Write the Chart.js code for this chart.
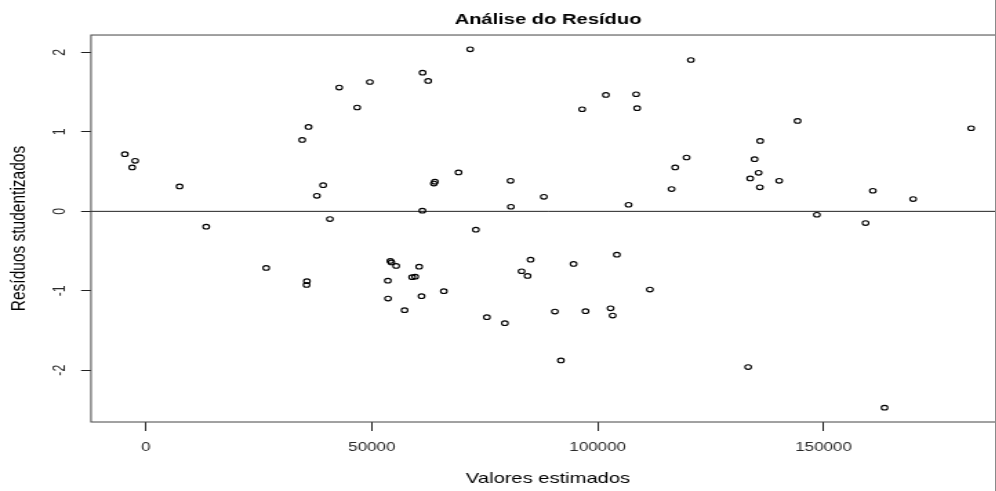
<!DOCTYPE html>
<html lang="pt">
<head>
<meta charset="utf-8">
<title>Análise do Resíduo</title>
<script src="https://cdn.jsdelivr.net/npm/chart.js@4.4.1/dist/chart.umd.min.js"></script>
<style>
  html, body { margin: 0; padding: 0; background: #fff; overflow: hidden; }
  #frame { position: relative; width: 996px; height: 491px; overflow: hidden; background: #fff; }
  /* the plot is drawn on a narrower canvas and widened, like the exported R device */
  #plot { position: absolute; left: 0; top: 0; transform-origin: 0 0; transform: scaleX(1.38); }
  #edge { position: absolute; left: 995px; top: 0; width: 1px; height: 491px; background: #8a8a8a; }
</style>
</head>
<body>
<div id="frame">
  <canvas id="plot" width="732" height="491"></canvas>
  <div id="edge"></div>
</div>
<script>
// fitted values of the model (x) and their studentized residuals (y)
const fittedValues = [
  -4650, -3030, -2370, 7460, 13350, 26630, 34600, 35570, 35640, 36010,
  37850, 39240, 40730, 42790, 46770, 49580, 53560, 53600, 54120, 54340,
  55400, 57260, 58940, 59610, 60490, 61020, 61250, 61200, 62480, 63750,
  63970, 65960, 69210, 71780, 73040, 75480, 79460, 80720, 80800, 83160,
  84490, 85150, 88090, 90530, 91860, 94670, 96570, 97320, 101820, 102860,
  103320, 104250, 106840, 108520, 108740, 111560, 116360, 117160, 119680, 120630,
  133310, 133760, 134730, 135620, 135900, 135970, 140180, 144250, 148520, 159300,
  160910, 163500, 169830, 182670
];
const studentizedResiduals = [
  0.720, 0.553, 0.636, 0.314, -0.193, -0.712, 0.899, -0.926, -0.879, 1.063,
  0.196, 0.330, -0.097, 1.558, 1.307, 1.628, -0.872, -1.098, -0.624, -0.643,
  -0.687, -1.244, -0.829, -0.822, -0.696, -1.068, 1.746, 0.008, 1.641, 0.349,
  0.374, -1.005, 0.490, 2.039, -0.231, -1.332, -1.407, 0.384, 0.058, -0.754,
  -0.813, -0.608, 0.183, -1.261, -1.877, -0.662, 1.285, -1.256, 1.465, -1.221,
  -1.312, -0.545, 0.083, 1.474, 1.298, -0.985, 0.280, 0.553, 0.678, 1.905,
  -1.960, 0.415, 0.657, 0.485, 0.302, 0.887, 0.384, 1.138, -0.043, -0.147,
  0.259, -2.471, 0.155, 1.046
];
const xTickValues = [0, 50000, 100000, 150000];
const yTickValues = [-2, -1, 0, 1, 2];
const referenceLine = 0;

// axis limits follow R's default: data range widened by 4% on each side
function paddedRange(values) {
  const lo = Math.min(...values), hi = Math.max(...values);
  const pad = (hi - lo) * 0.04;
  return [lo - pad, hi + pad];
}
const [xMin, xMax] = paddedRange(fittedValues);
const [yMin, yMax] = paddedRange(studentizedResiduals);

const FONT = '"Liberation Sans", Arial, Helvetica, sans-serif';

// plot box and y tick labels written parallel to the axis
const plotFrame = {
  id: 'plotFrame',
  afterDraw(chart) {
    const { ctx, chartArea: a, scales: { y } } = chart;
    ctx.save();
    ctx.strokeStyle = '#444';
    ctx.lineWidth = 1;
    ctx.strokeRect(a.left, a.top, a.right - a.left, a.bottom - a.top);
    ctx.fillStyle = '#2a2a2a';
    ctx.font = '12.3px ' + FONT;
    ctx.textAlign = 'center';
    ctx.textBaseline = 'middle';
    y.ticks.forEach(t => {
      ctx.save();
      ctx.translate(43.5, y.getPixelForValue(t.value));
      ctx.rotate(-Math.PI / 2);
      ctx.fillText(String(t.value), 0, 0);
      ctx.restore();
    });
    ctx.restore();
  }
};

new Chart(document.getElementById('plot'), {
  type: 'scatter',
  data: {
    datasets: [
      {
        data: fittedValues.map((x, i) => ({ x, y: studentizedResiduals[i] })),
        pointStyle: 'circle',
        pointRadius: 2.3,
        pointHoverRadius: 2.3,
        pointBorderWidth: 1.1,
        pointBorderColor: '#000',
        pointBackgroundColor: 'rgba(0,0,0,0)'
      },
      {
        data: [{ x: xMin, y: referenceLine }, { x: xMax, y: referenceLine }],
        showLine: true,
        borderColor: '#222',
        borderWidth: 1,
        pointRadius: 0,
        pointHoverRadius: 0
      }
    ]
  },
  options: {
    responsive: false,
    devicePixelRatio: 1,
    animation: false,
    events: [],
    layout: { padding: { left: 0, right: 3.74, top: 0, bottom: 0 } },
    plugins: {
      legend: { display: false },
      tooltip: { enabled: false },
      title: {
        display: true,
        text: 'Análise do Resíduo',
        fullSize: false,
        color: '#000',
        font: { family: FONT, size: 14.6, weight: 'bold' },
        padding: { top: 11.7, bottom: 5.8 }
      }
    },
    scales: {
      x: {
        type: 'linear',
        position: 'bottom',
        min: xMin,
        max: xMax,
        afterBuildTicks: s => { s.ticks = xTickValues.map(v => ({ value: v })); },
        afterFit: s => { s.height = 69; },
        ticks: {
          callback: v => String(v),
          color: '#2a2a2a',
          font: { family: FONT, size: 12.3 },
          padding: 9.4,
          maxRotation: 0,
          autoSkip: false
        },
        grid: { display: true, drawOnChartArea: false, drawTicks: true, tickLength: 9, tickColor: '#222', tickWidth: 1 },
        border: { display: false },
        title: {
          display: true,
          text: 'Valores estimados',
          color: '#000',
          font: { family: FONT, size: 14.6 },
          padding: { top: 0, bottom: 2.8 }
        }
      },
      y: {
        type: 'linear',
        position: 'left',
        min: yMin,
        max: yMax,
        afterBuildTicks: s => { s.ticks = yTickValues.map(v => ({ value: v })); },
        afterFit: s => { s.width = 65.94; },
        ticks: { display: false },
        grid: { display: true, drawOnChartArea: false, drawTicks: true, tickLength: 7.2, tickColor: '#222', tickWidth: 1 },
        border: { display: false },
        title: {
          display: true,
          text: 'Resíduos studentizados',
          color: '#000',
          font: { family: FONT, size: 15.5 },
          padding: { top: 4.6, bottom: 0 }
        }
      }
    }
  },
  plugins: [plotFrame]
});
</script>
</body>
</html>
